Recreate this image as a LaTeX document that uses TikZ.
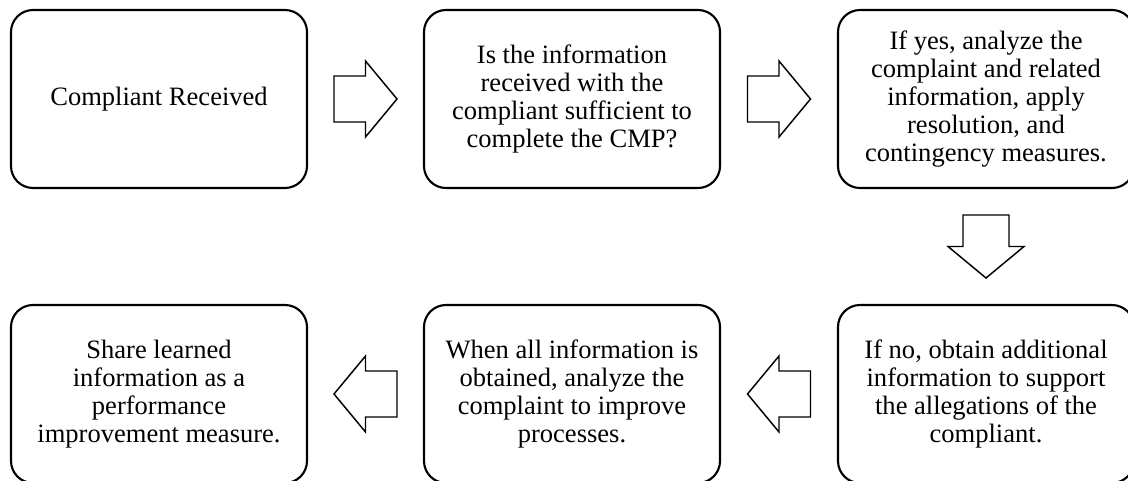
\documentclass[tikz,border=0pt]{standalone}
\usepackage{fontspec}
\setmainfont{Liberation Serif}
\usetikzlibrary{calc}

\tikzset{
  stepbox/.style={draw=black, line width=1.6pt, rounded corners=16.5pt,
    minimum width=222pt, minimum height=133.5pt, inner sep=0pt,
    align=center, font=\fontsize{19.9pt}{21pt}\selectfont},
  arrowline/.style={draw=black, line width=1.1pt, fill=white, line join=miter},
  flowarrow/.pic={
    \path[arrowline] (-31.5,-23) -- (0,-23) -- (0,-38) -- (31.5,0)
      -- (0,38) -- (0,23) -- (-31.5,23) -- cycle;
  }
}

\begin{document}
\begin{tikzpicture}[x=0.75pt, y=-0.75pt]
  \useasboundingbox (0,0) rectangle (1128,481);
  \clip (0,0) rectangle (1128,481);

  % top row
  \node[stepbox] (b1) at (159,99) {Compliant Received};
  \node[stepbox] (b2) at (572,99) {Is the information\\received with the\\compliant sufficient to\\complete the CMP?};
  \node[stepbox] (b3) at (986,99) {If yes, analyze the\\complaint and related\\information, apply\\resolution, and\\contingency measures.};

  % bottom row
  \node[stepbox] (b4) at (986,394) {If no, obtain additional\\information to support\\the allegations of the\\compliant.};
  \node[stepbox] (b5) at (572,394) {When all information is\\obtained, analyze the\\complaint to improve\\processes.};
  \node[stepbox] (b6) at (159,394) {Share learned\\information as a\\performance\\improvement measure.};

  % block arrows between the steps
  \pic at ($(b1.east)!0.5!(b2.west)$) {flowarrow};
  \pic at ($(b2.east)!0.5!(b3.west)$) {flowarrow};
  \pic[rotate=-90] at ($(b3.south)!0.5!(b4.north)$) {flowarrow};
  \pic[xscale=-1] at ($(b4.west)!0.5!(b5.east)$) {flowarrow};
  \pic[xscale=-1] at ($(b5.west)!0.5!(b6.east)$) {flowarrow};
\end{tikzpicture}
\end{document}
